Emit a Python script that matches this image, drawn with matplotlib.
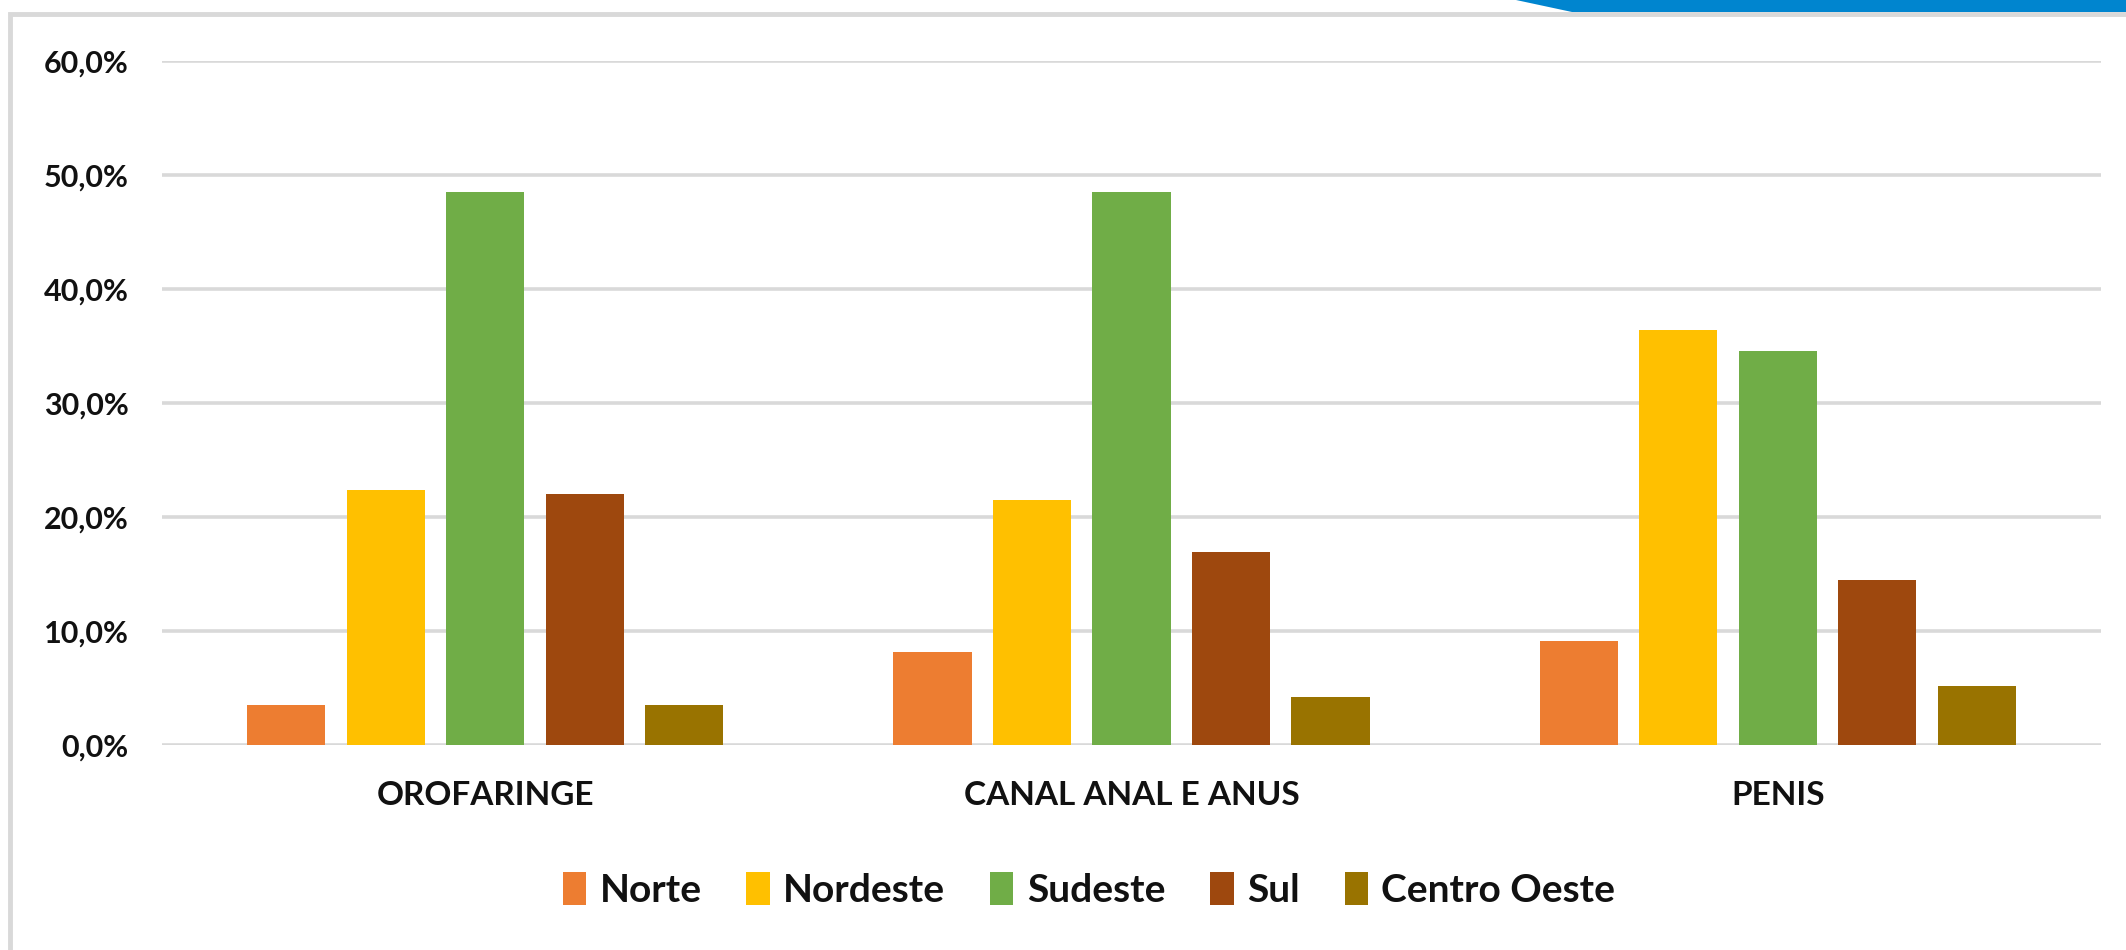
import numpy as np
import matplotlib
matplotlib.use("Agg")
import matplotlib.pyplot as plt
from matplotlib.patches import Polygon, Rectangle
from matplotlib.ticker import FuncFormatter

# data
categories = ["OROFARINGE", "CANAL ANAL E ANUS", "PENIS"]
regions = ["Norte", "Nordeste", "Sudeste", "Sul", "Centro Oeste"]
norte = [0.035, 0.082, 0.091]
nordeste = [0.224, 0.215, 0.364]
sudeste = [0.485, 0.485, 0.346]
sul = [0.220, 0.169, 0.145]
centro_oeste = [0.035, 0.042, 0.052]
colors = ["#ED7D31", "#FFC000", "#70AD47", "#9E480E", "#997300"]

series = [norte, nordeste, sudeste, sul, centro_oeste]

plt.rcParams['font.family'] = ['Lato', 'DejaVu Sans']
plt.rcParams['font.weight'] = 'bold'

W, H = 2126, 950
fig = plt.figure(figsize=(W / 100, H / 100), dpi=100)
ax = fig.add_axes([162 / W, 1 - 745 / H, (2101 - 162) / W, (745 - 61) / H])

x = np.arange(len(categories))
pitch = 0.154
width = 0.121
for i, (vals, name, c) in enumerate(zip(series, regions, colors)):
    ax.bar(x + (i - 2) * pitch, vals, width, color=c, label=name, zorder=3)

ax.set_xlim(-0.5, len(categories) - 0.5)
ax.set_ylim(0, 0.6)
ax.set_yticks(np.arange(0, 0.61, 0.1))
ax.yaxis.set_major_formatter(FuncFormatter(lambda v, p: f"{v * 100:.1f}%".replace(".", ",")))
ax.set_xticks(x)
ax.set_xticklabels(categories)
ax.tick_params(axis="y", length=0, pad=24, labelsize=22, labelcolor="#111111")
ax.tick_params(axis="x", length=0, pad=26, labelsize=24, labelcolor="#111111")
ax.grid(axis="y", color="#D9D9D9", linewidth=2.6, zorder=0)
for s in ax.spines.values():
    s.set_visible(False)

leg = ax.legend(loc="center", bbox_to_anchor=(1089 / W, 1 - 890 / H),
                bbox_transform=fig.transFigure, ncol=5, frameon=False,
                fontsize=28, handlelength=0.6, handleheight=0.9,
                handletextpad=0.35, columnspacing=1.15)
for t in leg.get_texts():
    t.set_color("#111111")

# chart box border and the blue banner in the corner
fig.add_artist(Rectangle((10 / W, -0.05), 1.2, 1 - 14 / H + 0.05,
                         transform=fig.transFigure, fill=False,
                         edgecolor="#D9D9D9", linewidth=3.5, zorder=0))
fig.add_artist(Polygon([(1516 / W, 1), (1572 / W, 1 - 12 / H), (1, 1 - 12 / H), (1, 1)],
                       closed=True, transform=fig.transFigure,
                       facecolor="#0085CF", edgecolor="none", zorder=5))

fig.savefig("out.png", dpi=100)
